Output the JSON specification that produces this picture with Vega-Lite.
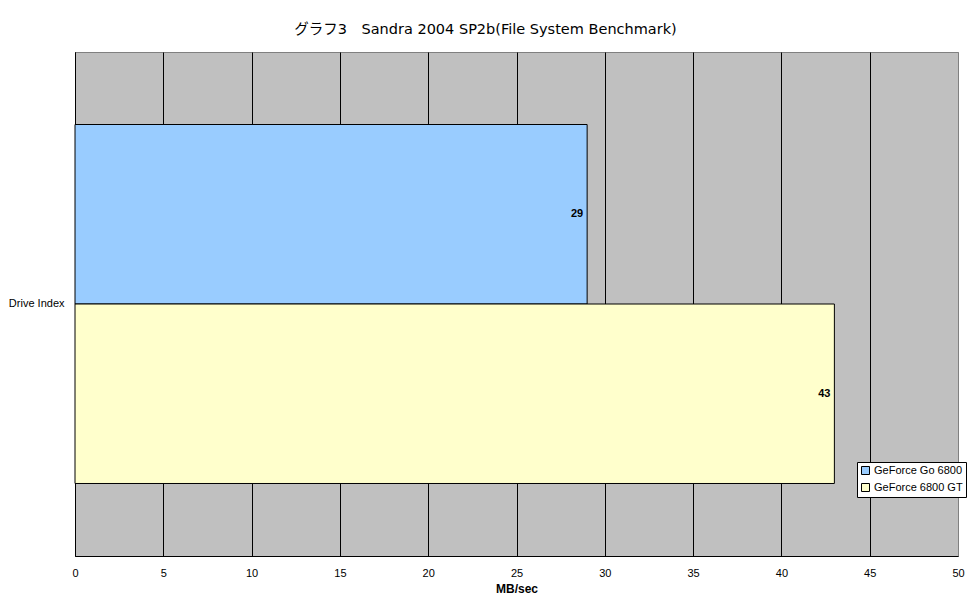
{
  "$schema": "https://vega.github.io/schema/vega-lite/v6.json",
  "autosize": "none",
  "width": 883,
  "height": 504,
  "padding": {"left": 75, "top": 52, "right": 14, "bottom": 48},
  "background": "white",
  "title": {
    "text": "グラフ3　Sandra 2004 SP2b(File System Benchmark)",
    "font": "DejaVu Sans, Noto Sans CJK JP",
    "fontSize": 14.5,
    "fontWeight": "normal",
    "color": "black",
    "anchor": "middle",
    "frame": "group",
    "dx": -31,
    "offset": 15
  },
  "config": {
    "font": "Liberation Sans, Noto Sans CJK JP",
    "view": {"fill": "#C0C0C0", "stroke": "#808080", "strokeWidth": 1}
  },
  "data": {
    "values": [
      {"category": "Drive Index", "series": "GeForce Go 6800", "value": 29},
      {"category": "Drive Index", "series": "GeForce 6800 GT", "value": 43}
    ]
  },
  "encoding": {
    "y": {
      "field": "category",
      "type": "nominal",
      "scale": {"paddingInner": 0, "paddingOuter": 0.202},
      "axis": {
        "title": null,
        "ticks": false,
        "labelPadding": 11,
        "labelFontSize": 11,
        "labelColor": "black",
        "domainColor": "black",
        "domainWidth": 1
      }
    },
    "yOffset": {
      "field": "series",
      "type": "nominal",
      "sort": ["GeForce Go 6800", "GeForce 6800 GT"],
      "scale": {"paddingInner": 0, "paddingOuter": 0}
    },
    "x": {
      "field": "value",
      "type": "quantitative",
      "scale": {"domain": [0, 50], "nice": false},
      "axis": {
        "values": [0, 5, 10, 15, 20, 25, 30, 35, 40, 45, 50],
        "title": "MB/sec",
        "titleFontSize": 12,
        "titleFontWeight": "bold",
        "titleColor": "black",
        "titlePadding": 5,
        "ticks": false,
        "labelPadding": 11,
        "labelFontSize": 11,
        "labelColor": "black",
        "labelFlush": false,
        "domainColor": "black",
        "domainWidth": 1,
        "grid": true,
        "gridColor": {"condition": {"test": "datum.value === 50", "value": "#808080"}, "value": "black"},
        "gridOpacity": 1,
        "gridWidth": 1
      }
    }
  },
  "layer": [
    {
      "mark": {"type": "bar", "stroke": "black", "strokeWidth": 1},
      "encoding": {
        "color": {
          "field": "series",
          "type": "nominal",
          "sort": ["GeForce Go 6800", "GeForce 6800 GT"],
          "scale": {"domain": ["GeForce Go 6800", "GeForce 6800 GT"], "range": ["#99CCFF", "#FFFFCC"]},
          "legend": {
            "title": null,
            "orient": "none",
            "legendX": 782,
            "legendY": 410,
            "fillColor": "white",
            "strokeColor": "black",
            "padding": 3,
            "rowPadding": 4,
            "symbolType": "square",
            "symbolSize": 64,
            "symbolStrokeColor": "black",
            "symbolStrokeWidth": 1,
            "symbolOpacity": 1,
            "labelFontSize": 11,
            "labelColor": "black",
            "labelOffset": 3
          }
        }
      }
    },
    {
      "mark": {"type": "text", "align": "right", "baseline": "middle", "dx": -4, "fontWeight": "bold", "fontSize": 11, "color": "black"},
      "encoding": {
        "text": {"field": "value", "type": "quantitative"}
      }
    }
  ]
}
